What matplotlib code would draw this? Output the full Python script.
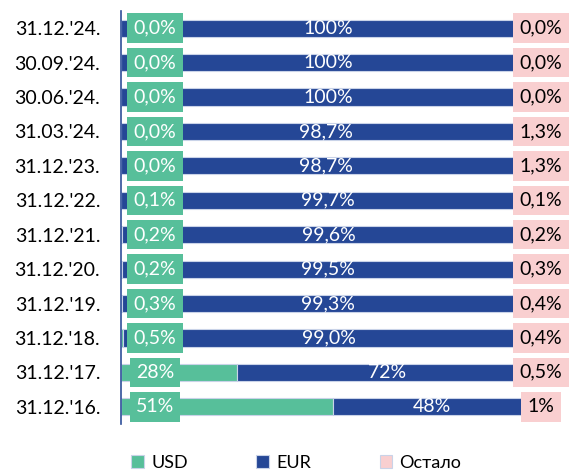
import matplotlib
matplotlib.use('Agg')
import numpy as np
from matplotlib import pyplot as plt

# data (bottom row first)
dates = ["31.12.'16.", "31.12.'17.", "31.12.'18.", "31.12.'19.", "31.12.'20.", "31.12.'21.",
         "31.12.'22.", "31.12.'23.", "31.03.'24.", "30.06.'24.", "30.09.'24.", "31.12.'24."]
usd = [51, 28, 0.5, 0.3, 0.2, 0.2, 0.1, 0.0, 0.0, 0.0, 0.0, 0.0]
eur = [48, 72, 99.0, 99.3, 99.5, 99.6, 99.7, 98.7, 98.7, 100, 100, 100]
other = [1, 0.5, 0.4, 0.4, 0.3, 0.2, 0.1, 1.3, 1.3, 0.0, 0.0, 0.0]
usd_labels = ["51%", "28%", "0,5%", "0,3%", "0,2%", "0,2%", "0,1%", "0,0%", "0,0%", "0,0%", "0,0%", "0,0%"]
eur_labels = ["48%", "72%", "99,0%", "99,3%", "99,5%", "99,6%", "99,7%", "98,7%", "98,7%", "100%", "100%", "100%"]
other_labels = ["1%", "0,5%", "0,4%", "0,4%", "0,3%", "0,2%", "0,1%", "1,3%", "1,3%", "0,0%", "0,0%", "0,0%"]

colors = {'USD': '#57bf9a', 'EUR': '#254796', 'Остало': '#f9cfd0'}

plt.rcParams['font.family'] = ['Lato', 'DejaVu Sans']
fs = 14

fig = plt.figure(figsize=(5.7, 4.75), dpi=100)
ax = fig.add_axes([121 / 570, 1 - 424 / 475, 415 / 570, 413 / 475])

y = np.arange(len(dates))
usd_v = np.array(usd) / 100
eur_v = np.array(eur) / 100
oth_v = np.array(other) / 100

edge = dict(edgecolor='#c9d3e8', linewidth=0.8)
ax.barh(y, usd_v, height=0.5, color=colors['USD'], label='USD', **edge)
ax.barh(y, eur_v, left=usd_v, height=0.5, color=colors['EUR'], label='EUR', **edge)
ax.barh(y, oth_v, left=usd_v + eur_v, height=0.5, color=colors['Остало'], label='Остало', **edge)

# data labels, boxed like the original
for i in range(len(dates)):
    ax.text(0.082, y[i], usd_labels[i], ha='center', va='center', color='white', fontsize=fs,
            bbox=dict(boxstyle='square,pad=0.32', fc=colors['USD'], ec='none'), zorder=5)
    ax.text(usd_v[i] + eur_v[i] / 2, y[i], eur_labels[i], ha='center', va='center',
            color='white', fontsize=fs, zorder=5)
    ax.text(1.012, y[i], other_labels[i], ha='center', va='center', color='black', fontsize=fs,
            bbox=dict(boxstyle='square,pad=0.32', fc=colors['Остало'], ec='none'),
            zorder=5, clip_on=False)

ax.set_xlim(0, 1)
ax.set_ylim(-0.5, len(dates) - 0.5)
ax.set_yticks(y)
ax.set_yticklabels(dates, fontsize=fs)
ax.tick_params(axis='y', length=0, pad=15)
ax.set_xticks([])
for side in ['top', 'right', 'bottom']:
    ax.spines[side].set_visible(False)
ax.spines['left'].set_color('#2f4f9a')
ax.spines['left'].set_linewidth(1.2)

handles, labels = ax.get_legend_handles_labels()
fig.legend(handles, labels, loc='center', bbox_to_anchor=(0.52, 1 - 463 / 475), ncol=3,
           frameon=False, fontsize=13, handlelength=0.7, handleheight=0.7,
           handletextpad=0.4, columnspacing=3.8)

fig.savefig('out.png', dpi=100)
